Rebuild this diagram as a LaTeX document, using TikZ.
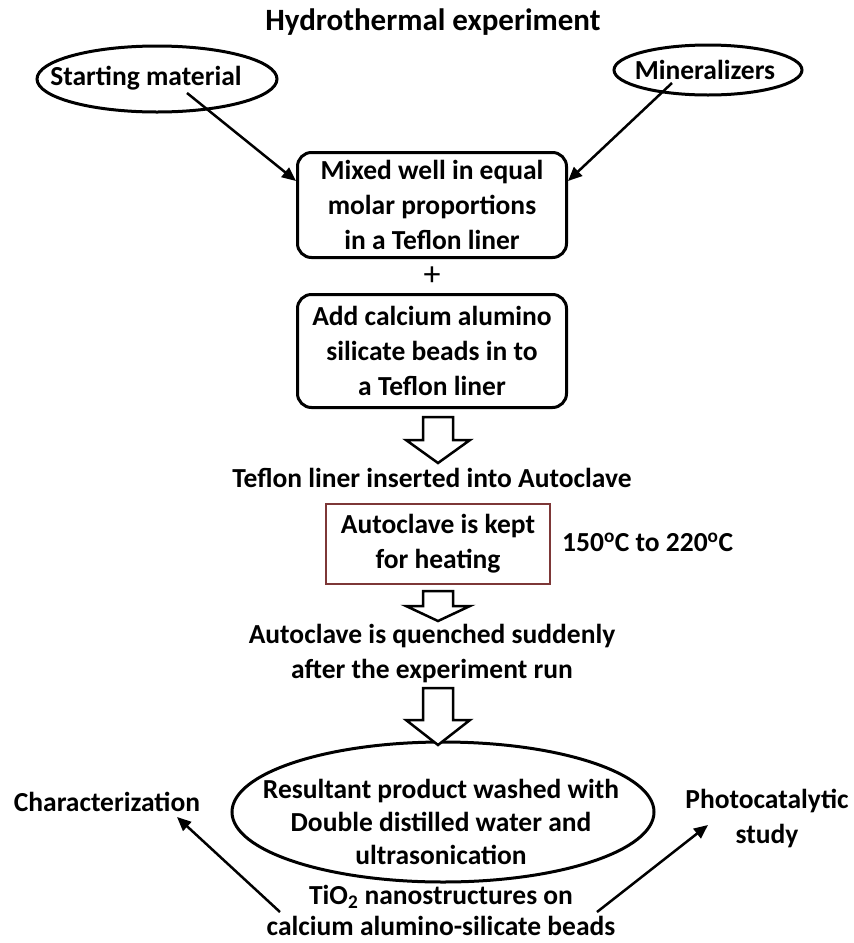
\documentclass[tikz,border=0pt]{standalone}
\usepackage{fontspec}
\setmainfont{Carlito}
\usetikzlibrary{shapes.geometric,arrows.meta,positioning}
\definecolor{boxbrown}{RGB}{125,55,55}
\begin{document}
\begin{tikzpicture}[x=1pt, y=-1pt,
    font=\bfseries\fontsize{27.5}{35}\selectfont,
    oval/.style={line width=3pt},
    stepbox/.style={draw, rounded corners=14pt, line width=3pt, minimum width=269pt, align=center},
    flow/.style={line width=2.5pt, -{Triangle[length=14pt, width=12pt]}},
    txt/.style={align=center, inner sep=0pt}]
  \useasboundingbox (0,0) rectangle (854,943);
  \node[txt, font=\bfseries\fontsize{31}{35}\selectfont] (title) at (433,22) {Hydrothermal experiment};
  \node[txt] (start) at (146,78) {Starting material};
  \draw[oval] (157,79) ellipse [x radius=120, y radius=33];
  \node[txt] (mineral) at (705,70) {Mineralizers};
  \draw[oval] (708,70) ellipse [x radius=94, y radius=25];
  \node[stepbox, minimum height=105pt] (mix) at (432,205) {Mixed well in equal\\molar proportions\\in a Teflon liner};
  \node[txt, font=\fontsize{34}{34}\selectfont] (plus) at (432,276) {+};
  \node[stepbox, minimum height=113pt] (beads) at (432,351) {Add calcium alumino\\silicate beads in to\\a Teflon liner};
  \node[txt] (insert) at (432,478) {Teflon liner inserted into Autoclave};
  \node[draw=boxbrown, line width=1.5pt, minimum width=224pt, minimum height=80pt, align=center] (heat) at (438,544) {Autoclave is kept\\for heating};
  \node[txt, anchor=west] (temp) at (562,542) {150\textsuperscript{o}C to 220\textsuperscript{o}C};
  \node[txt] (quench) at (432,654) {Autoclave is quenched suddenly\\after the experiment run};
  \node[txt, font=\bfseries\fontsize{27.5}{33}\selectfont] (wash) at (441,822) {Resultant product washed with\\Double distilled water and\\ultrasonication};
  \draw[oval] (443,812) ellipse [x radius=211, y radius=70];
  \node[txt, font=\bfseries\fontsize{27.5}{31}\selectfont] (tio) at (441,910) {TiO\textsubscript{2} nanostructures on\\calcium alumino-silicate beads};
  \node[txt] (charac) at (107,802) {Characterization};
  \node[txt] (photo) at (767,818) {Photocatalytic\\study};
  \draw[flow] ([xshift=41pt, yshift=-15pt]start.center) -- ([yshift=-30pt]mix.north west);
  \draw[flow] ([xshift=-33pt, yshift=-13pt]mineral.center) -- ([yshift=-30pt]mix.north east);
  \draw[flow] ([xshift=-161pt, yshift=-2pt]tio.center) -- ([xshift=70pt, yshift=-15pt]charac.center);
  \draw[flow] ([xshift=156pt, yshift=-2pt]tio.center) -- ([xshift=-59pt, yshift=-7pt]photo.center);
  \foreach \ya/\yb/\yc in {417/440/463, 591/606/621, 688/720/745}
    \draw[line width=2.5pt, fill=white] (423,\ya) -- (453,\ya) -- (453,\yb) -- (470,\yb)
      -- (438,\yc) -- (406,\yb) -- (423,\yb) -- cycle;
\end{tikzpicture}
\end{document}
